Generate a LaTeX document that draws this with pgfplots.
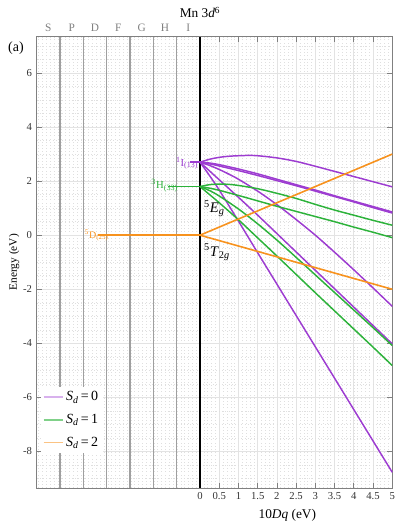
\documentclass[border=0pt]{standalone}
\usepackage{fontspec}
\setmainfont{Liberation Serif}
\usepackage{pgfplots}
\pgfplotsset{compat=1.18}
\definecolor{ppl}{RGB}{157,60,209}
\definecolor{grn}{RGB}{44,178,58}
\definecolor{org}{RGB}{247,146,30}

\begin{document}
\begin{tikzpicture}
\begin{axis}[
  scale only axis,
  width=266.7pt, height=338.6pt,
  xmin=-4.25, xmax=5, ymin=-9.35, ymax=7.35,
  clip=false,
  xtick={0,0.5,...,5},
  xticklabels={0,0.5,1,1.5,2,2.5,3,3.5,4,4.5,5},
  ytick={-8,-6,...,6},
  minor ytick={-9,-8.5,...,7},
  minor xtick={-4.2,-4.1,...,5},
  extra x ticks={-3.643,-3.036,-2.429,-1.821,-1.214,-0.607},
  extra x tick labels={},
  extra x tick style={grid=major, major grid style={gray!75, line width=0.8pt}, major tick length=0pt},
  grid=both,
  major grid style={gray!22, line width=0.6pt},
  minor grid style={gray!25, dotted, line width=0.4pt},
  axis line style={gray, line width=0.6pt},
  tick style={gray, line width=0.5pt},
  major tick length=4pt,
  minor tick length=0pt,
  /pgf/number format/assume math mode=true,
  tick label style={font=\fontsize{8}{9}\selectfont, text=black!80},
  ylabel={Energy (eV)},
  ylabel shift=-4pt,
  ylabel style={font=\fontsize{8.5}{10}\selectfont},
  xlabel={10\textit{Dq} (eV)},
  xlabel style={at={(ticklabel cs:0.705)}, anchor=north, font=\fontsize{10}{12}\selectfont},
  legend style={at={(axis cs:-4.15,-5.6)}, anchor=north west, draw=none, fill=white,
    font=\fontsize{10.5}{12}\selectfont, row sep=4.5pt, inner sep=1.5pt},
  legend cell align=left,
  legend image code/.code={\draw[#1] (0cm,0cm) -- (0.5cm,0cm);},
]
\addlegendimage{color=ppl!40, line width=1.2pt}
\addlegendentry{\textit{S}\textsubscript{\textit{d}}\,=\,0}
\addlegendimage{color=grn!60, line width=1.2pt}
\addlegendentry{\textit{S}\textsubscript{\textit{d}}\,=\,1}
\addlegendimage{color=org!55, line width=1.2pt}
\addlegendentry{\textit{S}\textsubscript{\textit{d}}\,=\,2}

% boundary between free ion and crystal field
\addplot[black, line width=0.9pt, forget plot] coordinates {(0,-9.35) (0,7.35)};

% free-ion terms
\addplot[org, line width=1.2pt, forget plot] coordinates {(-2.65,0) (0,0)};
\addplot[grn, line width=1.2pt, forget plot] coordinates {(-0.83,1.8) (0,1.8)};
\addplot[ppl, line width=1.2pt, forget plot] coordinates {(-0.26,2.7) (0,2.7)};

% S_d = 0 (1I)
\addplot[ppl, line width=1.1pt, smooth, forget plot] coordinates {
  (0,2.70) (0.25,2.81) (0.5,2.88) (0.75,2.92) (1,2.94) (1.25,2.95) (1.5,2.94)
  (2,2.86) (2.5,2.73) (3,2.55) (3.5,2.36) (4,2.17) (4.5,1.98) (5,1.79)};
\addplot[ppl, line width=1.1pt, smooth, forget plot] coordinates {
  (0,2.70) (0.25,2.67) (0.5,2.61) (1,2.45) (1.5,2.27) (2,2.07) (2.5,1.87)
  (3,1.67) (3.5,1.46) (4,1.26) (4.5,1.06) (5,0.86)};
\addplot[ppl, line width=1.1pt, smooth, forget plot] coordinates {
  (0,2.70) (0.25,2.64) (0.5,2.56) (1,2.39) (1.5,2.21) (2,2.02) (2.5,1.83)
  (3,1.63) (3.5,1.43) (4,1.23) (4.5,1.02) (5,0.82)};
\addplot[ppl, line width=1.1pt, smooth, forget plot] coordinates {
  (0,2.70) (0.25,2.58) (0.5,2.43) (0.75,2.26) (1,2.07) (1.5,1.63) (2,1.13)
  (2.5,0.58) (3,0.0) (3.5,-0.63) (4,-1.28) (4.5,-1.95) (5,-2.63)};
\addplot[ppl, line width=1.1pt, smooth, forget plot] coordinates {
  (0,2.70) (0.5,2.05) (1,1.40) (1.5,0.74) (2,0.06) (2.5,-0.62) (3,-1.30)
  (3.5,-1.98) (4,-2.66) (4.5,-3.34) (5,-4.02)};
\addplot[ppl, line width=1.1pt, smooth, forget plot] coordinates {
  (0,2.70) (0.25,2.20) (0.5,1.67) (1,0.52) (1.5,-0.65) (2,-1.81) (2.5,-2.97)
  (3,-4.13) (3.5,-5.29) (4,-6.45) (4.5,-7.61) (5,-8.77)};

% S_d = 1 (3H)
\addplot[grn, line width=1.1pt, smooth, forget plot] coordinates {
  (0,1.80) (0.25,1.87) (0.5,1.89) (0.75,1.88) (1,1.84) (1.5,1.72) (2,1.55)
  (2.5,1.36) (3,1.14) (3.5,0.93) (4,0.74) (4.5,0.55) (5,0.37)};
\addplot[grn, line width=1.1pt, smooth, forget plot] coordinates {
  (0,1.80) (0.25,1.74) (0.5,1.66) (1,1.47) (1.5,1.27) (2,1.07) (2.5,0.88)
  (3,0.69) (3.5,0.50) (4,0.30) (4.5,0.11) (5,-0.09)};
\addplot[grn, line width=1.1pt, smooth, forget plot] coordinates {
  (0,1.80) (0.25,1.65) (0.5,1.45) (1,0.97) (1.5,0.42) (2,-0.18) (2.5,-0.82)
  (3,-1.47) (3.5,-2.12) (4,-2.77) (4.5,-3.42) (5,-4.08)};
\addplot[grn, line width=1.1pt, smooth, forget plot] coordinates {
  (0,1.80) (0.25,1.50) (0.5,1.20) (1,0.57) (1.5,-0.10) (2,-0.77) (2.5,-1.45)
  (3,-2.13) (3.5,-2.80) (4,-3.47) (4.5,-4.14) (5,-4.82)};

% S_d = 2 (5D)
\addplot[org, line width=1.2pt, forget plot] coordinates {(0,0) (5,3.0)};
\addplot[org, line width=1.2pt, forget plot] coordinates {(0,0) (5,-2.0)};

% term labels
\node[ppl, anchor=base east, font=\fontsize{8}{9}\selectfont, inner sep=0pt]
  at (axis cs:-0.04,2.56) {\textsuperscript{1}I\textsubscript{(13)}};
\node[grn, anchor=base east, font=\fontsize{8}{9}\selectfont, inner sep=0pt]
  at (axis cs:-0.57,1.73) {\textsuperscript{3}H\textsubscript{(33)}};
\node[org, anchor=base east, font=\fontsize{7.5}{9}\selectfont, inner sep=0pt]
  at (axis cs:-2.37,-0.11) {\textsuperscript{5}D\textsubscript{(25)}};
\node[anchor=base west, font=\fontsize{11}{13}\selectfont, inner sep=0pt]
  at (axis cs:0.1,0.83) {\textsuperscript{5}\textit{E}\textsubscript{\textit{g}}};
\node[anchor=base west, font=\fontsize{11}{13}\selectfont, inner sep=0pt]
  at (axis cs:0.1,-0.78) {\textsuperscript{5}\textit{T}\textsubscript{2\textit{g}}};

% orbital columns
\node[gray, anchor=base, yshift=4pt, font=\fontsize{8.5}{10}\selectfont] at (axis cs:-3.946,7.35) {S};
\node[gray, anchor=base, yshift=4pt, font=\fontsize{8.5}{10}\selectfont] at (axis cs:-3.339,7.35) {P};
\node[gray, anchor=base, yshift=4pt, font=\fontsize{8.5}{10}\selectfont] at (axis cs:-2.732,7.35) {D};
\node[gray, anchor=base, yshift=4pt, font=\fontsize{8.5}{10}\selectfont] at (axis cs:-2.125,7.35) {F};
\node[gray, anchor=base, yshift=4pt, font=\fontsize{8.5}{10}\selectfont] at (axis cs:-1.518,7.35) {G};
\node[gray, anchor=base, yshift=4pt, font=\fontsize{8.5}{10}\selectfont] at (axis cs:-0.911,7.35) {H};
\node[gray, anchor=base, yshift=4pt, font=\fontsize{8.5}{10}\selectfont] at (axis cs:-0.304,7.35) {I};
\node[anchor=base, yshift=14pt, font=\fontsize{10}{12}\selectfont] at (axis cs:0,7.35) {Mn 3\textit{d}\textsuperscript{6}};
\node[xshift=-15.5pt, yshift=-8.6pt, font=\fontsize{10.5}{12}\selectfont] at (rel axis cs:0,1) {(a)};
\end{axis}
\path ([shift={(-27.5pt,-29.3pt)}]current axis.south west) rectangle ([shift={(11pt,27.4pt)}]current axis.north east);
\end{tikzpicture}
\end{document}
